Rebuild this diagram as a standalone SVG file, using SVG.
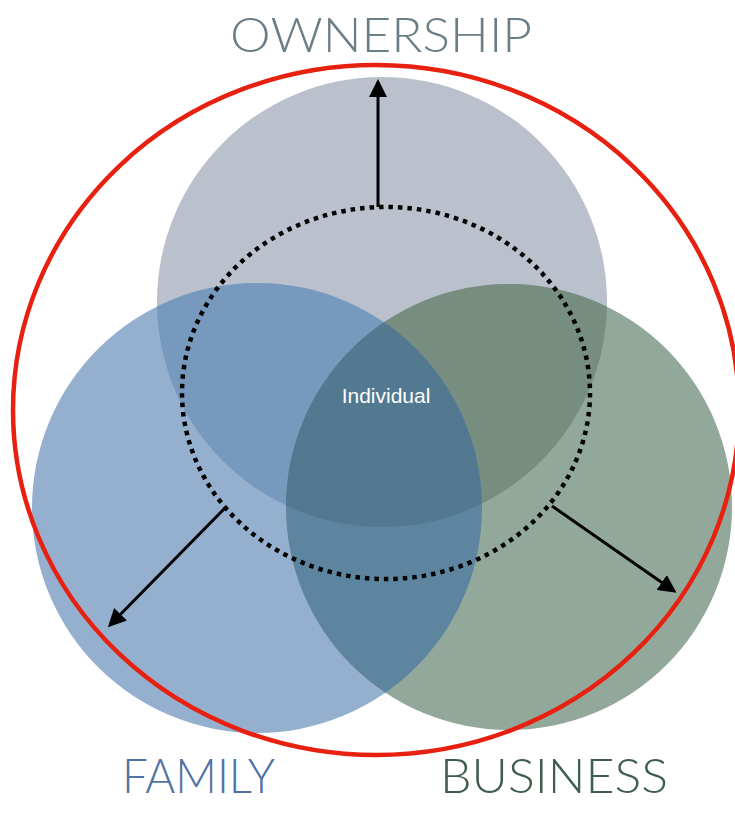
<svg xmlns="http://www.w3.org/2000/svg" width="735" height="820" viewBox="0 0 735 820">
  <style>
    .lbl { font-family: "Lato", "Liberation Sans", "DejaVu Sans", sans-serif; font-weight: 300; font-size: 47px; }
    .arrow { stroke: #000; stroke-width: 3; fill: none; marker-end: url(#ah); }
  </style>
  <defs>
    <marker id="ah" markerWidth="6" markerHeight="6" refX="5" refY="3" orient="auto" markerUnits="strokeWidth" viewBox="0 0 6 6">
      <path d="M0,0 L6,3 L0,6 Z" fill="#000"/>
    </marker>
    <clipPath id="cT"><circle cx="382" cy="302" r="225"/></clipPath>
    <clipPath id="cL"><circle cx="257" cy="508" r="225"/></clipPath>
    <clipPath id="cTL" clip-path="url(#cT)"><circle cx="257" cy="508" r="225"/></clipPath>
  </defs>
  <rect width="735" height="820" fill="#fff"/>

  <g id="ownership">
    <circle cx="382" cy="302" r="225" fill="#bac1cc"/>
    <text class="lbl" x="230" y="52" textLength="302" lengthAdjust="spacingAndGlyphs" fill="#6b7d87">OWNERSHIP</text>
  </g>
  <g id="family">
    <circle cx="257" cy="508" r="225" fill="#95b0cf"/>
    <circle cx="257" cy="508" r="225" fill="#7699bd" clip-path="url(#cT)"/>
    <text class="lbl" x="122" y="793" textLength="153" lengthAdjust="spacingAndGlyphs" fill="#4f72a4">FAMILY</text>
  </g>
  <g id="business">
    <circle cx="509" cy="507" r="223" fill="#92a89b"/>
    <circle cx="509" cy="507" r="223" fill="#768d80" clip-path="url(#cT)"/>
    <circle cx="509" cy="507" r="223" fill="#5e859f" clip-path="url(#cL)"/>
    <circle cx="509" cy="507" r="223" fill="#537991" clip-path="url(#cTL)"/>
    <text class="lbl" x="440" y="793" textLength="228" lengthAdjust="spacingAndGlyphs" fill="#3f5e4d">BUSINESS</text>
  </g>
  <g id="individual">
    <ellipse cx="386" cy="393" rx="204" ry="186" fill="none" stroke="#000" stroke-width="4.5" stroke-dasharray="4.5 5"/>
    <text x="386" y="403" text-anchor="middle" font-family="Liberation Sans, Arial, sans-serif" font-size="21" fill="#fff">Individual</text>
  </g>
  <g id="boundary">
    <ellipse cx="376" cy="410" rx="363" ry="345" fill="none" stroke="#e8200f" stroke-width="4.5"/>
  </g>
  <g id="connectors">
    <line class="arrow" x1="378" y1="207" x2="378" y2="82"/>
    <line class="arrow" x1="226" y1="507" x2="110" y2="625"/>
    <line class="arrow" x1="552" y1="506" x2="674" y2="591"/>
  </g>
</svg>
